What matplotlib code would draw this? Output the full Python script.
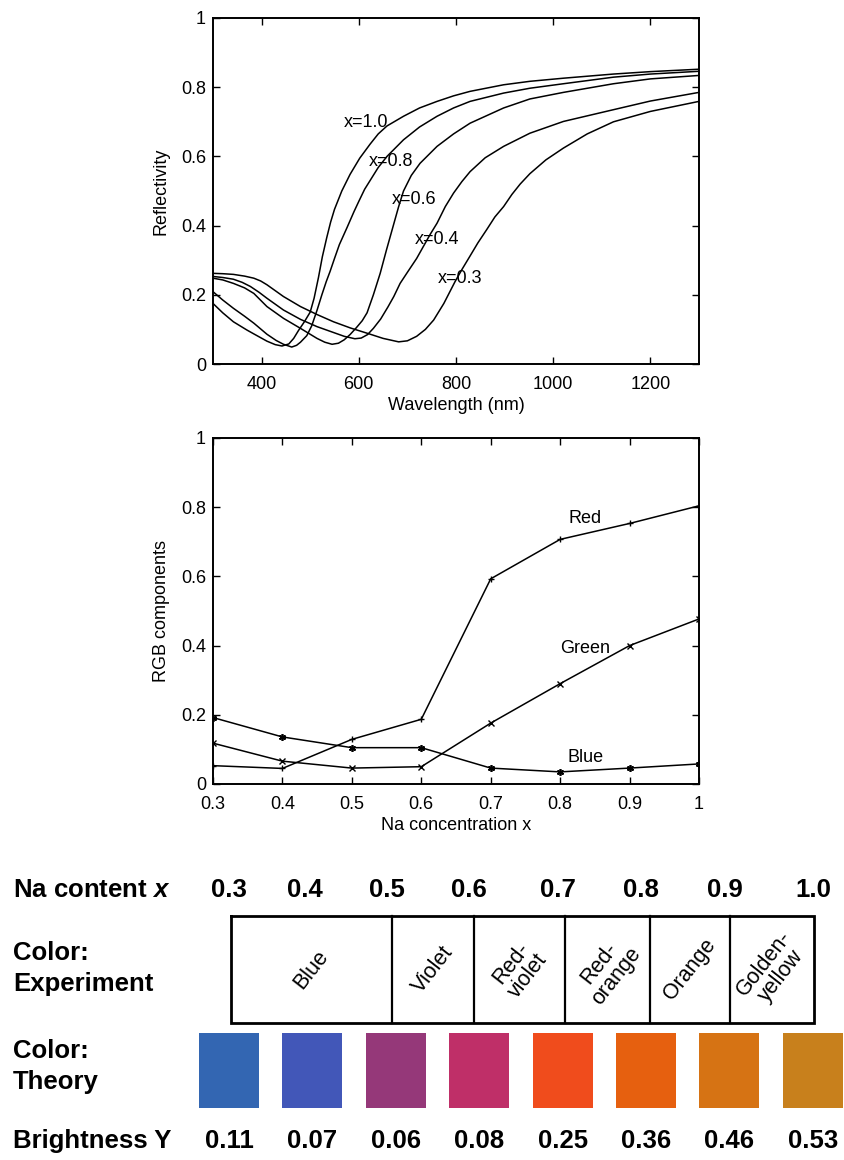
import matplotlib
matplotlib.use("Agg")
import matplotlib.pyplot as plt
from matplotlib.ticker import FuncFormatter, MultipleLocator

plt.rcParams['font.family'] = ['Liberation Sans', 'DejaVu Sans']
plt.rcParams['mathtext.fontset'] = 'custom'
plt.rcParams['mathtext.it'] = 'Liberation Sans:italic:bold'
plt.rcParams['mathtext.rm'] = 'Liberation Sans:bold'

# ---------------- Reflectivity spectra ----------------
wl_x10 = [300, 320, 342, 370, 384, 411, 428, 442, 456, 466, 476, 488, 500, 508, 517, 525, 534, 542, 550, 565, 582,
          602, 623, 640, 658, 692, 725, 761, 795, 829, 898, 952, 1021, 1124, 1200, 1300]
r_x10 = [0.175, 0.148, 0.122, 0.098, 0.087, 0.066, 0.056, 0.052, 0.058, 0.074, 0.097, 0.122, 0.150, 0.190, 0.250,
         0.310, 0.365, 0.410, 0.447, 0.500, 0.548, 0.595, 0.635, 0.665, 0.688, 0.716, 0.740, 0.759, 0.775, 0.788,
         0.807, 0.817, 0.826, 0.838, 0.845, 0.852]

wl_x08 = [300, 320, 342, 365, 384, 411, 430, 445, 462, 472, 480, 493, 503, 514, 524, 533, 541, 550, 560, 576, 590,
          600, 612, 624, 640, 658, 692, 725, 761, 795, 829, 898, 952, 1021, 1124, 1200, 1300]
r_x08 = [0.209, 0.185, 0.161, 0.138, 0.118, 0.086, 0.068, 0.057, 0.049, 0.054, 0.063, 0.082, 0.110, 0.155, 0.200,
         0.238, 0.268, 0.305, 0.345, 0.395, 0.440, 0.470, 0.505, 0.532, 0.568, 0.600, 0.648, 0.685, 0.716, 0.740,
         0.759, 0.783, 0.797, 0.810, 0.829, 0.838, 0.846]

wl_x06 = [300, 320, 342, 365, 384, 411, 445, 480, 514, 530, 545, 558, 570, 582, 595, 607, 617, 630, 644, 657, 671,
          682, 692, 708, 726, 761, 795, 829, 898, 952, 1021, 1124, 1200, 1300]
r_x06 = [0.248, 0.243, 0.233, 0.220, 0.204, 0.166, 0.132, 0.103, 0.074, 0.063, 0.057, 0.060, 0.070, 0.085, 0.105,
         0.125, 0.148, 0.200, 0.262, 0.330, 0.400, 0.455, 0.500, 0.545, 0.580, 0.629, 0.665, 0.696, 0.740, 0.766,
         0.785, 0.810, 0.824, 0.834]

wl_x04 = [300, 320, 342, 360, 377, 395, 411, 445, 480, 514, 548, 570, 592, 605, 618, 630, 645, 660, 672, 685, 700,
          719, 735, 747, 761, 778, 795, 812, 829, 860, 898, 952, 1021, 1124, 1200, 1300]
r_x04 = [0.253, 0.250, 0.245, 0.236, 0.224, 0.207, 0.190, 0.156, 0.129, 0.108, 0.091, 0.080, 0.073, 0.075, 0.085,
         0.103, 0.130, 0.165, 0.195, 0.233, 0.265, 0.305, 0.345, 0.375, 0.407, 0.455, 0.494, 0.527, 0.556, 0.596,
         0.629, 0.667, 0.701, 0.735, 0.760, 0.785]

wl_x03 = [300, 320, 342, 365, 384, 398, 411, 428, 445, 480, 514, 548, 583, 617, 650, 682, 700, 719, 737, 754, 775,
          798, 813, 828, 845, 863, 880, 898, 915, 932, 952, 985, 1021, 1070, 1124, 1200, 1300]
r_x03 = [0.262, 0.261, 0.259, 0.254, 0.248, 0.240, 0.229, 0.212, 0.195, 0.166, 0.143, 0.122, 0.104, 0.089, 0.074,
         0.064, 0.067, 0.080, 0.100, 0.127, 0.175, 0.238, 0.275, 0.310, 0.350, 0.388, 0.425, 0.455, 0.490, 0.520,
         0.550, 0.590, 0.624, 0.665, 0.700, 0.730, 0.759]

spectra_labels = ["x=1.0", "x=0.8", "x=0.6", "x=0.4", "x=0.3"]

# ---------------- RGB components ----------------
na_x = [0.3, 0.4, 0.5, 0.6, 0.7, 0.8, 0.9, 1.0]
red = [0.053, 0.045, 0.129, 0.187, 0.593, 0.707, 0.753, 0.804]
green = [0.118, 0.066, 0.046, 0.050, 0.176, 0.290, 0.400, 0.477]
blue = [0.192, 0.136, 0.105, 0.105, 0.046, 0.035, 0.046, 0.058]

# ---------------- Table ----------------
na_content = ["0.3", "0.4", "0.5", "0.6", "0.7", "0.8", "0.9", "1.0"]
exp_colors = ["Blue", "Violet", "Red-\nviolet", "Red-\norange", "Orange", "Golden-\nyellow"]
theory_colors = ["#3366b2", "#4257b8", "#953879", "#bf2f68", "#f04c1c", "#e6600f", "#d67314", "#c8801c"]
brightness = ["0.11", "0.07", "0.06", "0.08", "0.25", "0.36", "0.46", "0.53"]

W, H = 845, 1160
fig = plt.figure(figsize=(W / 100, H / 100), dpi=100)

TICK_FS = 13
LBL_FS = 13


def style_axes(ax):
    for s in ax.spines.values():
        s.set_linewidth(1.4)
    ax.tick_params(direction='in', top=True, right=True, length=5, width=1.0,
                   labelsize=TICK_FS)
    ax.tick_params(axis='y', pad=5)
    ax.tick_params(axis='x', pad=8.5)
    ax.yaxis.set_major_locator(MultipleLocator(0.2))
    ax.yaxis.set_major_formatter(FuncFormatter(lambda v, p: f"{v:g}"))
    ax.set_ylim(0, 1)


# ---- top: reflectivity ----
ax1 = fig.add_axes([213 / W, 1 - 364 / H, 486 / W, 346 / H])
for wl, r in [(wl_x10, r_x10), (wl_x08, r_x08), (wl_x06, r_x06), (wl_x04, r_x04), (wl_x03, r_x03)]:
    ax1.plot(wl, r, color='black', lw=1.1, solid_joinstyle='round')
style_axes(ax1)
ax1.set_xlim(300, 1300)
ax1.set_xticks([400, 600, 800, 1000, 1200])
ax1.set_xlabel("Wavelength (nm)", fontsize=LBL_FS, labelpad=3)
ax1.set_ylabel("Reflectivity", fontsize=LBL_FS, labelpad=8)
label_pos = [(570, 0.697), (620, 0.585), (668, 0.474), (716, 0.361), (763, 0.248)]
for txt, (lx, ly) in zip(spectra_labels, label_pos):
    ax1.text(lx, ly, txt, fontsize=LBL_FS, ha='left', va='center')

# ---- middle: RGB ----
ax2 = fig.add_axes([213 / W, 1 - 784 / H, 486 / W, 346 / H])
ax2.plot(na_x, red, color='black', lw=1.1, marker='+', ms=5, mew=1.0)
ax2.plot(na_x, green, color='black', lw=1.1, marker='x', ms=4, mew=1.0)
ax2.plot(na_x, blue, color='black', lw=1.1, marker=(6, 2, 0), ms=5, mew=1.2)
style_axes(ax2)
ax2.set_xlim(0.3, 1.0)
ax2.set_xticks(na_x)
ax2.xaxis.set_major_formatter(FuncFormatter(lambda v, p: f"{v:g}"))
ax2.set_xlabel("Na concentration x", fontsize=LBL_FS, labelpad=3)
ax2.set_ylabel("RGB components", fontsize=LBL_FS, labelpad=8)
ax2.text(0.836, 0.766, "Red", fontsize=LBL_FS, ha='center', va='center')
ax2.text(0.836, 0.393, "Green", fontsize=LBL_FS, ha='center', va='center')
ax2.text(0.836, 0.078, "Blue", fontsize=LBL_FS, ha='center', va='center')

# ---- bottom: table ----
TOP = 850
ax3 = fig.add_axes([0, 0, 1, (H - TOP) / H])
ax3.set_xlim(-229 / 83.4, (W - 229) / 83.4)
ax3.set_ylim(H, TOP)
ax3.axis('off')

cols = list(range(len(na_content)))
left_x = (13 - 229) / 83.4
TFS = 18.5
bold = dict(fontsize=TFS, fontweight='bold')

ax3.text(left_x, 890, r"Na content $\mathit{x}$", ha='left', va='center', **bold)
na_label_pos = [0, 0.91, 1.89, 2.88, 3.94, 4.94, 5.95, 7.01]
for p, t in zip(na_label_pos, na_content):
    ax3.text(p, 890, t, ha='center', va='center', **bold)

ax3.text(left_x, 953, "Color:", ha='left', va='center', **bold)
ax3.text(left_x, 984, "Experiment", ha='left', va='center', **bold)
edges = [0.02, 1.95, 2.94, 4.03, 5.05, 6.01, 7.02]
box_top, box_bot = 916, 1023
ax3.plot([edges[0], edges[-1], edges[-1], edges[0], edges[0]],
         [box_top, box_top, box_bot, box_bot, box_top], color='black', lw=2.0,
         solid_joinstyle='miter')
for e in edges[1:-1]:
    ax3.plot([e, e], [box_top, box_bot], color='black', lw=1.6)
for i, t in enumerate(exp_colors):
    cx = (edges[i] + edges[i + 1]) / 2
    ax3.text(cx, (box_top + box_bot) / 2, t, ha='center', va='center',
             rotation=52, fontsize=15.5, linespacing=1.0, rotation_mode='anchor')

ax3.text(left_x, 1051, "Color:", ha='left', va='center', **bold)
ax3.text(left_x, 1082, "Theory", ha='left', va='center', **bold)
ax3.bar(cols, 75, bottom=1033, width=0.72, color=theory_colors)

ax3.text(left_x, 1141, "Brightness Y", ha='left', va='center', **bold)
for c, t in zip(cols, brightness):
    ax3.text(c, 1141, t, ha='center', va='center', **bold)

fig.savefig("out.png", dpi=100)
